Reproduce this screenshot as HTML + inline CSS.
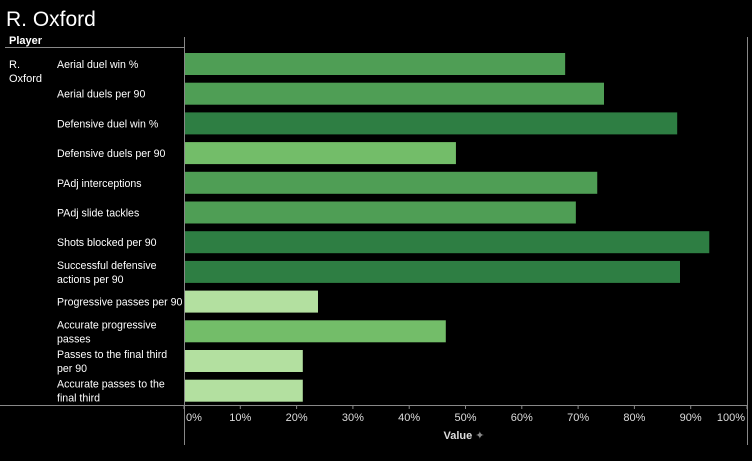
<!DOCTYPE html>
<html><head><meta charset="utf-8"><style>
body{margin:0;background:#000;width:752px;height:461px;overflow:hidden;font-family:"Liberation Sans",sans-serif;color:#fff}
</style></head><body>
<svg width="752" height="461" style="position:absolute;left:0;top:0">
<text x="6" y="26" font-size="21" fill="#fff">R. Oxford</text>
<text x="9" y="44" font-size="11" font-weight="bold" fill="#fff">Player</text>
<line x1="5" y1="47.5" x2="184" y2="47.5" stroke="#888"/>
<line x1="184.5" y1="37" x2="184.5" y2="445" stroke="#888"/>
<line x1="747.5" y1="37" x2="747.5" y2="445" stroke="#888"/>
<line x1="0" y1="405.5" x2="748" y2="405.5" stroke="#888"/>
<text x="9" y="68" font-size="11" fill="#fff">R.</text>
<text x="9" y="82" font-size="11" fill="#fff">Oxford</text>
<g id="bars"></g><g id="labels"></g><g id="ticks"></g>
<text x="464" y="439" font-size="11" font-weight="bold" fill="#ddd" text-anchor="middle">Value <tspan fill="#888" font-weight="normal">✦</tspan></text>
</svg>
<script>
const categories=[["Aerial duel win %"],["Aerial duels per 90"],["Defensive duel win %"],["Defensive duels per 90"],["PAdj interceptions"],["PAdj slide tackles"],["Shots blocked per 90"],["Successful defensive","actions per 90"],["Progressive passes per 90"],["Accurate progressive","passes"],["Passes to the final third","per 90"],["Accurate passes to the","final third"]];
const values=[67.7,74.6,87.6,48.3,73.4,69.6,93.3,88.1,23.8,46.5,21.1,21.1];
const tickLabels=["0%","10%","20%","30%","40%","50%","60%","70%","80%","90%","100%"];
const NS="http://www.w3.org/2000/svg";
const x=v=>184+v*5.63;
const y=i=>53+i*29.7;
function color(v){if(v>=85)return"#2e7e43";if(v>=60)return"#4f9e55";if(v>=40)return"#73bd69";return"#b3e0a0";}
const bars=document.getElementById("bars"),labels=document.getElementById("labels"),ticks=document.getElementById("ticks");
values.forEach((v,i)=>{
const r=document.createElementNS(NS,"rect");


r.setAttribute("x",185);r.setAttribute("y",y(i));r.setAttribute("width",x(v)-185);r.setAttribute("height",22);r.setAttribute("fill",color(v));
bars.appendChild(r);
const lines=categories[i];
lines.forEach((s,k)=>{
const t=document.createElementNS(NS,"text");


t.setAttribute("x",57);t.setAttribute("font-size",10.6);t.setAttribute("fill","#fff");
t.setAttribute("y",lines.length==1?y(i)+15:y(i)+8+k*14);
t.textContent=s;labels.appendChild(t);});
});
tickLabels.forEach((s,i)=>{
const v=i*10;
const l=document.createElementNS(NS,"line");


l.setAttribute("x1",x(v));l.setAttribute("x2",x(v));l.setAttribute("y1",405);l.setAttribute("y2",409);l.setAttribute("stroke","#888");
ticks.appendChild(l);
const t=document.createElementNS(NS,"text");


t.setAttribute("font-size",11);t.setAttribute("fill","#ddd");t.setAttribute("y",421);
if(i==0){t.setAttribute("x",186);}else if(i==10){t.setAttribute("x",745);t.setAttribute("text-anchor","end");}else{t.setAttribute("x",x(v));t.setAttribute("text-anchor","middle");}
t.textContent=s;ticks.appendChild(t);
});
</script>
</body></html>
